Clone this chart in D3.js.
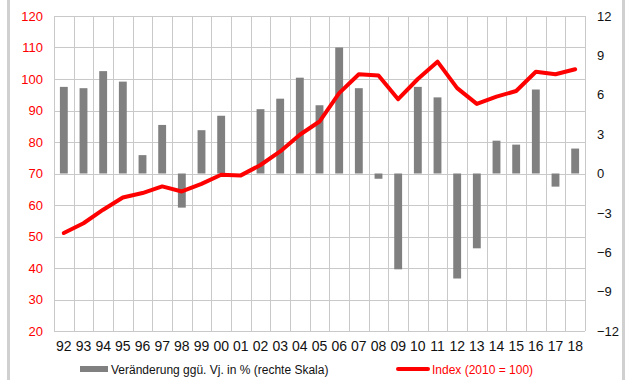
<!DOCTYPE html>
<html>
<head>
<meta charset="utf-8">
<script src="https://cdn.jsdelivr.net/npm/d3@7"></script>
<style>
  html, body { margin: 0; padding: 0; background: #fff; }
  svg { display: block; font-family: "Liberation Sans", Arial, sans-serif; }
</style>
</head>
<body>
<svg id="chart" width="627" height="380"></svg>
<script>
// Years (two-digit labels)
const years = ["92","93","94","95","96","97","98","99","00","01","02","03","04","05",
               "06","07","08","09","10","11","12","13","14","15","16","17","18"];

// Year-on-year change in % (right scale)
const changePct = [6.6, 6.5, 7.8, 7.0, 1.4, 3.7, -2.6, 3.3, 4.4, 0.0, 4.9, 5.7, 7.3, 5.2,
                   9.6, 6.5, -0.4, -7.3, 6.6, 5.8, -8.0, -5.7, 2.5, 2.2, 6.4, -1.0, 1.9];

// Index, 2010 = 100 (left scale)
const indexVals = [51.1, 54.2, 58.5, 62.4, 63.8, 65.9, 64.3, 66.7, 69.6, 69.4, 72.7, 77.0, 82.3, 86.5,
                   95.5, 101.5, 101.1, 93.6, 100.0, 105.5, 97.1, 92.1, 94.4, 96.2, 102.3, 101.5, 103.1];

const leftTicks  = [20, 30, 40, 50, 60, 70, 80, 90, 100, 110, 120];
const rightTicks = [-12, -9, -6, -3, 0, 3, 6, 9, 12];

const legendBarLabel  = "Veränderung ggü. Vj. in % (rechte Skala)";
const legendLineLabel = "Index (2010 = 100)";

const RED = "#ff0000", BAR = "#808080", GRID = "#c9c9c9";
const plot = { left: 54, right: 585, top: 16, bottom: 331 };

const svg = d3.select("#chart");

// Frame strips at the sides of the image
svg.append("rect").attr("x", 7).attr("y", 0).attr("width", 3).attr("height", 380).attr("fill", "#d0d0d0");
svg.append("rect").attr("x", 622).attr("y", 0).attr("width", 3).attr("height", 380).attr("fill", "#d0d0d0");

const x = d3.scaleBand().domain(years).range([plot.left, plot.right])
  .paddingInner(0.6).paddingOuter(0.3);
const yL = d3.scaleLinear().domain([20, 120]).range([plot.bottom, plot.top]);
const yR = d3.scaleLinear().domain([-12, 12]).range([plot.bottom, plot.top]);

const step = x.step();
const half = x.paddingInner() * step / 2;

// Grid
const grid = svg.append("g").attr("stroke", GRID).attr("stroke-width", 1).attr("shape-rendering", "crispEdges");
grid.selectAll("line.h").data(leftTicks).join("line")
  .attr("x1", plot.left).attr("x2", plot.right)
  .attr("y1", d => Math.round(yL(d)) + 0.5).attr("y2", d => Math.round(yL(d)) + 0.5);
const bounds = years.map(d => x(d) - half).concat([x(years[years.length - 1]) + x.bandwidth() + half]);
grid.selectAll("line.v").data(bounds).join("line")
  .attr("x1", d => Math.round(d) + 0.5).attr("x2", d => Math.round(d) + 0.5)
  .attr("y1", plot.top).attr("y2", plot.bottom);

// Bars (right scale)
svg.append("g").selectAll("rect").data(years.map((y, i) => ({ y, v: changePct[i] }))).join("rect")
  .attr("x", d => x(d.y))
  .attr("width", x.bandwidth())
  .attr("y", d => yR(Math.max(0, d.v)))
  .attr("height", d => Math.abs(yR(d.v) - yR(0)))
  .attr("fill", BAR);

// Index line (left scale)
const line = d3.line()
  .x((d, i) => x(years[i]) + x.bandwidth() / 2)
  .y(d => yL(d));
svg.append("path").datum(indexVals)
  .attr("d", line)
  .attr("fill", "none")
  .attr("stroke", RED)
  .attr("stroke-width", 4)
  .attr("stroke-linejoin", "round")
  .attr("stroke-linecap", "round");

// Axes
const axL = svg.append("g").attr("transform", `translate(${plot.left},0)`)
  .call(d3.axisLeft(yL).tickValues(leftTicks).tickSize(0).tickPadding(11));
axL.select(".domain").remove();
axL.selectAll("text").attr("fill", RED).style("font-size", "13px").style("font-family", "Liberation Sans, Arial, sans-serif");

const axR = svg.append("g").attr("transform", `translate(${plot.right},0)`)
  .call(d3.axisRight(yR).tickValues(rightTicks).tickSize(0).tickPadding(12));
axR.select(".domain").remove();
axR.selectAll("text").attr("fill", "#111").style("font-size", "13px").style("font-family", "Liberation Sans, Arial, sans-serif");

const axB = svg.append("g").attr("transform", `translate(0,${plot.bottom})`)
  .call(d3.axisBottom(x).tickSize(0).tickPadding(10));
axB.select(".domain").remove();
axB.selectAll("text").attr("fill", "#111").style("font-size", "14px").style("font-family", "Liberation Sans, Arial, sans-serif");

// Legend
const lg = svg.append("g").style("font-size", "12px");
lg.append("rect").attr("x", 80).attr("y", 366).attr("width", 28).attr("height", 6).attr("fill", BAR);
lg.append("text").attr("x", 111).attr("y", 373.5).attr("fill", "#111").text(legendBarLabel);
lg.append("line").attr("x1", 398).attr("x2", 428).attr("y1", 369).attr("y2", 369)
  .attr("stroke", RED).attr("stroke-width", 4).attr("stroke-linecap", "round");
lg.append("text").attr("x", 432).attr("y", 373.5).attr("fill", RED).text(legendLineLabel);
</script>
</body>
</html>
